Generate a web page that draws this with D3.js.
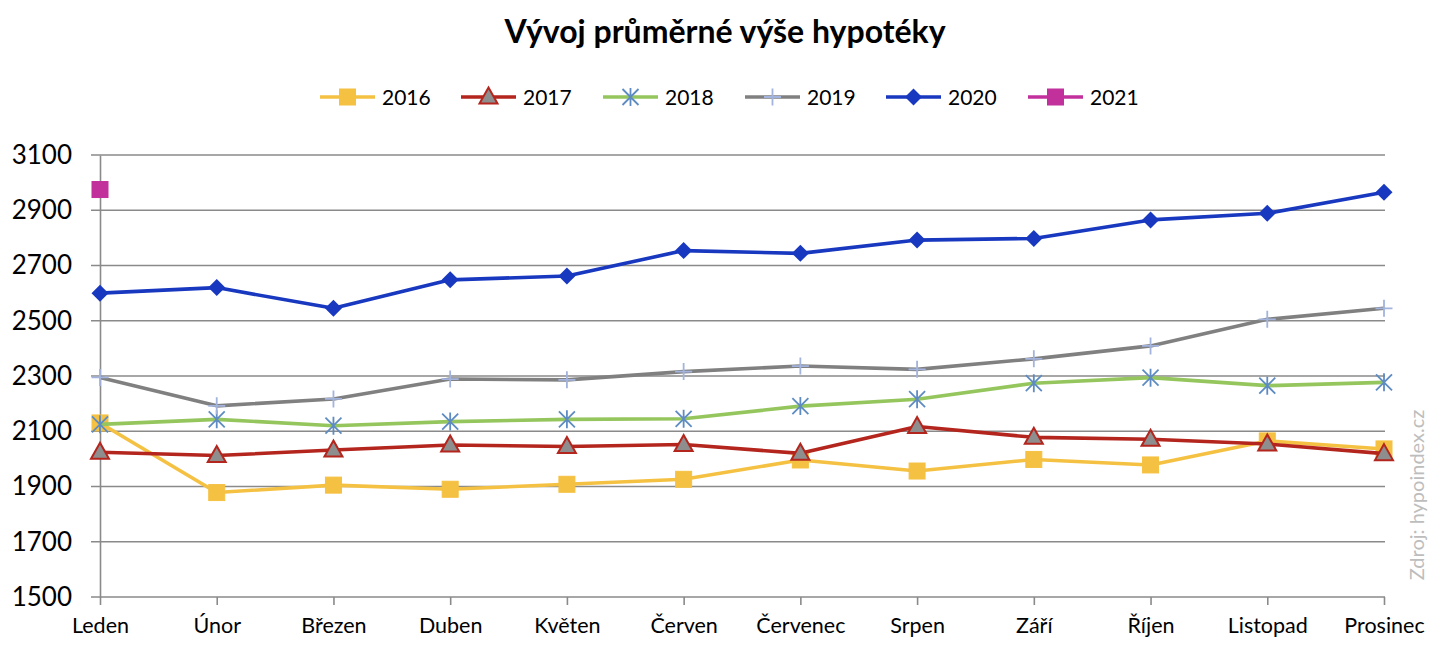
<!DOCTYPE html>
<html><head><meta charset="utf-8">
<script src="https://cdn.jsdelivr.net/npm/d3@7"></script>
<style>body{margin:0;background:#fff}svg{display:block}text{font-family:Lato,"Open Sans",sans-serif}</style>
</head><body><svg id="c" width="1442" height="648"></svg>
<script>
const months = ["Leden","Únor","Březen","Duben","Květen","Červen","Červenec","Srpen","Září","Říjen","Listopad","Prosinec"];
const yTicks = [1500,1700,1900,2100,2300,2500,2700,2900,3100];
const s2016 = [2130,1878,1905,1890,1908,1926,1996,1956,1998,1978,2065,2036];
const s2017 = [2024,2012,2032,2050,2045,2052,2020,2117,2078,2071,2054,2019];
const s2018 = [2125,2143,2120,2135,2143,2145,2191,2216,2274,2294,2265,2277];
const s2019 = [2295,2192,2217,2289,2286,2316,2336,2324,2362,2409,2505,2545];
const s2020 = [2600,2620,2545,2648,2662,2754,2744,2792,2798,2865,2889,2965];
const s2021 = [2975];
const seriesNames = ["2016","2017","2018","2019","2020","2021"];

const series = [
  {name:"2016", values:s2016, color:"#F5C142", marker:"square", mfill:"#F5C142", mstroke:"#F5C142"},
  {name:"2017", values:s2017, color:"#B3251D", marker:"triangle", mfill:"#8E8E8E", mstroke:"#B3251D"},
  {name:"2018", values:s2018, color:"#95C65E", marker:"star", mfill:"none", mstroke:"#5E8CC2"},
  {name:"2019", values:s2019, color:"#808080", marker:"plus", mfill:"none", mstroke:"#A2B3DD"},
  {name:"2020", values:s2020, color:"#1838C0", marker:"diamond", mfill:"#1838C0", mstroke:"#1838C0"},
  {name:"2021", values:s2021, color:"#C2309B", marker:"square", mfill:"#C2309B", mstroke:"#C2309B"}
];

const svg = d3.select("#c");
const x = d3.scalePoint().domain(months).range([100,1384]);
const y = d3.scaleLinear().domain([1500,3100]).range([597,155]);

// title
svg.append("text").attr("x",725).attr("y",43).attr("text-anchor","middle")
  .attr("font-size",32).attr("font-weight","bold").attr("fill","#000").text("Vývoj průměrné výše hypotéky");

// gridlines
const grid = svg.append("g");
grid.selectAll("line").data(yTicks).join("line")
  .attr("x1",91).attr("x2",1385).attr("y1",d=>y(d)).attr("y2",d=>y(d))
  .attr("stroke","#8A8A8A").attr("stroke-width",1.6);

// y axis
const yAxis = svg.append("g").attr("transform","translate(100,0)")
  .call(d3.axisLeft(y).tickValues(yTicks).tickSize(0).tickPadding(28).tickFormat(d3.format("d")));
yAxis.select(".domain").attr("stroke","#8A8A8A").attr("stroke-width",1.6);
yAxis.selectAll("text").attr("font-size",26).attr("fill","#000").attr("font-family","Lato, sans-serif");

// x axis
const xAxis = svg.append("g").attr("transform","translate(0,597)")
  .call(d3.axisBottom(x).tickSize(8).tickPadding(13));
xAxis.select(".domain").remove();
xAxis.selectAll("line").attr("stroke","#8A8A8A").attr("stroke-width",1.6);
xAxis.selectAll("text").attr("font-size",21.5).attr("fill","#000").attr("font-family","Lato, sans-serif");

function marker(g, type, cx, cy, fill, stroke){
  if(type==="square"){
    g.append("rect").attr("x",cx-8).attr("y",cy-8).attr("width",16).attr("height",16).attr("fill",fill).attr("stroke",stroke).attr("stroke-width",1);
  } else if(type==="triangle"){
    g.append("path").attr("d",`M${cx},${cy-9.5}L${cx+9},${cy+6.5}L${cx-9},${cy+6.5}Z`).attr("fill",fill).attr("stroke",stroke).attr("stroke-width",2);
  } else if(type==="diamond"){
    g.append("path").attr("d",`M${cx},${cy-8.5}L${cx+8.5},${cy}L${cx},${cy+8.5}L${cx-8.5},${cy}Z`).attr("fill",fill);
  } else if(type==="star"){
    const r=8;
    g.append("path").attr("d",`M${cx-r},${cy-r}L${cx+r},${cy+r}M${cx-r},${cy+r}L${cx+r},${cy-r}M${cx},${cy-r-1}L${cx},${cy+r+1}`)
      .attr("stroke",stroke).attr("stroke-width",1.8).attr("fill","none");
  } else if(type==="plus"){
    const r=8.5;
    g.append("path").attr("d",`M${cx-r},${cy}L${cx+r},${cy}M${cx},${cy-r}L${cx},${cy+r}`)
      .attr("stroke",stroke).attr("stroke-width",1.8).attr("fill","none");
  }
}

const line = d3.line().x((d,i)=>x(months[i])).y(d=>y(d));
series.forEach(s=>{
  const g = svg.append("g");
  if(s.values.length>1){
    g.append("path").attr("d",line(s.values)).attr("fill","none").attr("stroke",s.color).attr("stroke-width",3.6).attr("stroke-linejoin","round");
  }
  s.values.forEach((v,i)=>marker(g,s.marker,x(months[i]),y(v),s.mfill,s.mstroke));
});

// legend
const legX = [320,461,603,745,886,1028];
series.forEach((s,i)=>{
  const g = svg.append("g");
  const lx = legX[i], ly = 97;
  g.append("line").attr("x1",lx).attr("x2",lx+55).attr("y1",ly).attr("y2",ly).attr("stroke",s.color).attr("stroke-width",3.6);
  marker(g,s.marker,lx+27.5,ly,s.mfill,s.mstroke);
  g.append("text").attr("x",lx+62).attr("y",ly+7.5).attr("font-size",21).attr("fill","#000").text(seriesNames[i]);
});

// source
svg.append("text").attr("transform","translate(1424,495) rotate(-90)").attr("text-anchor","middle")
  .attr("font-size",20).attr("fill","#BDBDBD").text("Zdroj: hypoindex.cz");
</script></body></html>
